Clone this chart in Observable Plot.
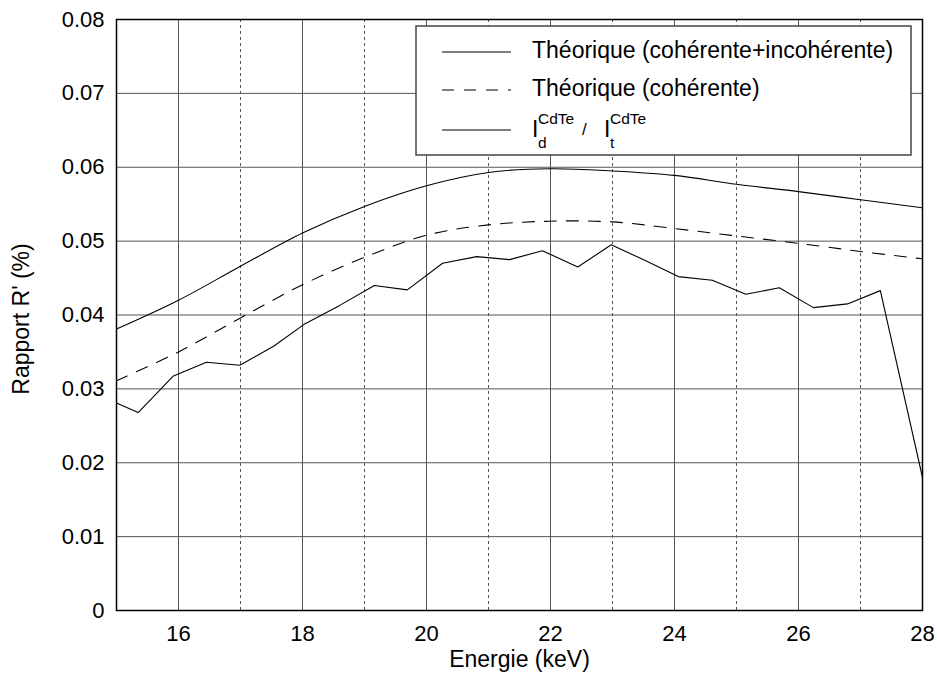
<!DOCTYPE html>
<html>
<head>
<meta charset="utf-8">
<script src="https://cdn.jsdelivr.net/npm/d3@7"></script>
<script src="https://cdn.jsdelivr.net/npm/@observablehq/plot@0.6"></script>
<style>
  html, body { margin: 0; padding: 0; background: #fff; }
  #chart svg { display: block; }
</style>
</head>
<body>
<div id="chart"></div>
<script>
// ---- Data ----
const energyTheo = [15, 16, 17, 18, 19, 20, 21, 22, 23, 24, 25, 26, 27, 28];
const theoTotal = [0.0381, 0.0420, 0.0466, 0.0511, 0.0547, 0.0575, 0.0593, 0.0598, 0.0595, 0.0589, 0.0577, 0.0567, 0.0556, 0.0545];
const theoCoherent = [0.0311, 0.0350, 0.0396, 0.0441, 0.0478, 0.0508, 0.0522, 0.0527, 0.0526, 0.0517, 0.0507, 0.0497, 0.0486, 0.0476];

const energyExp = [15.0, 15.35, 15.91, 16.45, 16.99, 17.54, 18.02, 18.6, 19.16, 19.69, 20.26, 20.81, 21.34, 21.87, 22.44, 22.98, 23.52, 24.06, 24.61, 25.15, 25.69, 26.24, 26.79, 27.32, 28.0];
const ratioExp = [0.0281, 0.0268, 0.0317, 0.0336, 0.0332, 0.0358, 0.0387, 0.0413, 0.0440, 0.0434, 0.0470, 0.0479, 0.0475, 0.0487, 0.0465, 0.0495, 0.0474, 0.0452, 0.0447, 0.0428, 0.0437, 0.0410, 0.0415, 0.0433, 0.0180];

const xTickLabels = [16, 18, 20, 22, 24, 26, 28];
const xMajorGrid = [16, 18, 20, 22, 24, 26];
const xMinorGrid = [17, 19, 21, 23, 25, 27];
const yTickLabels = [0, 0.01, 0.02, 0.03, 0.04, 0.05, 0.06, 0.07, 0.08];

const legendLabels = ["Théorique (cohérente+incohérente)", "Théorique (cohérente)"];
const xLabel = "Energie (keV)";
const yLabel = "Rapport R' (%)";

// ---- Build rows ----
const totalRows = energyTheo.map((e, i) => ({e, r: theoTotal[i]}));
const cohRows = energyTheo.map((e, i) => ({e, r: theoCoherent[i]}));
const expRows = energyExp.map((e, i) => ({e, r: ratioExp[i]}));

const FONT = "'Liberation Sans', Arial, Helvetica, sans-serif";
const GRID = "#555";

const chart = Plot.plot({
  width: 937,
  height: 693,
  marginLeft: 116,
  marginRight: 15,
  marginTop: 19,
  marginBottom: 83,
  x: {domain: [15, 28]},
  y: {domain: [0, 0.08]},
  style: {fontFamily: FONT, fontSize: "22px", color: "black", background: "white"},
  marks: [
    Plot.ruleY(yTickLabels, {stroke: GRID, strokeWidth: 1}),
    Plot.ruleX(xMajorGrid, {stroke: GRID, strokeWidth: 1}),
    Plot.ruleX(xMinorGrid, {stroke: GRID, strokeWidth: 1, strokeDasharray: "3,3"}),
    Plot.line(totalRows, {x: "e", y: "r", curve: "catmull-rom", stroke: "black", strokeWidth: 1.1, clip: true}),
    Plot.line(cohRows, {x: "e", y: "r", curve: "catmull-rom", stroke: "black", strokeWidth: 1.1, strokeDasharray: "12,10", clip: true}),
    Plot.line(expRows, {x: "e", y: "r", stroke: "black", strokeWidth: 1.1, clip: true}),
    Plot.frame({stroke: "black", strokeWidth: 1.5}),
    Plot.axisX({ticks: xTickLabels, tickSize: 0, tickPadding: 15, label: null, fontSize: 22}),
    Plot.axisY({ticks: yTickLabels, tickSize: 0, tickPadding: 12, label: null, fontSize: 22,
      tickFormat: d => d === 0 ? "0" : d3.format(".2f")(d)}),
    Plot.text([xLabel], {frameAnchor: "bottom", dy: 49, lineAnchor: "middle", textAnchor: "middle", fontSize: 23, text: d => d}),
    Plot.text([yLabel], {frameAnchor: "left", dx: -95, dy: 4, rotate: -90, lineAnchor: "middle", textAnchor: "middle", fontSize: 23, text: d => d})
  ]
});

document.getElementById("chart").appendChild(chart);

// ---- Legend (inside plot area, top-right) ----
const svg = d3.select(chart);
const lg = svg.append("g").attr("font-family", FONT).attr("fill", "black").attr("text-anchor", "start");
lg.append("rect").attr("x", 416).attr("y", 26).attr("width", 495).attr("height", 129)
  .attr("fill", "white").attr("stroke", "#444").attr("stroke-width", 1.5);

const rowsY = [52, 90, 130];
const dashes = [null, "12,10", null];
rowsY.forEach((y, i) => {
  const l = lg.append("line").attr("x1", 442).attr("x2", 511).attr("y1", y).attr("y2", y)
    .attr("stroke", "black").attr("stroke-width", 1.1);
  if (dashes[i]) l.attr("stroke-dasharray", dashes[i]);
});
lg.append("text").attr("x", 532).attr("y", 57.5).attr("font-size", 23).text(legendLabels[0]);
lg.append("text").attr("x", 532).attr("y", 96).attr("font-size", 23).text(legendLabels[1]);

// I_d^CdTe / I_t^CdTe
function ratioTerm(x, sub) {
  lg.append("text").attr("x", x).attr("y", 137).attr("font-size", 23).text("I");
  lg.append("text").attr("x", x + 6).attr("y", 123.5).attr("font-size", 15.5).text("CdTe");
  lg.append("text").attr("x", x + 6).attr("y", 148).attr("font-size", 15.5).text(sub);
}
ratioTerm(532, "d");
lg.append("text").attr("x", 582).attr("y", 135).attr("font-size", 17).text("/");
ratioTerm(604, "t");
</script>
</body>
</html>
